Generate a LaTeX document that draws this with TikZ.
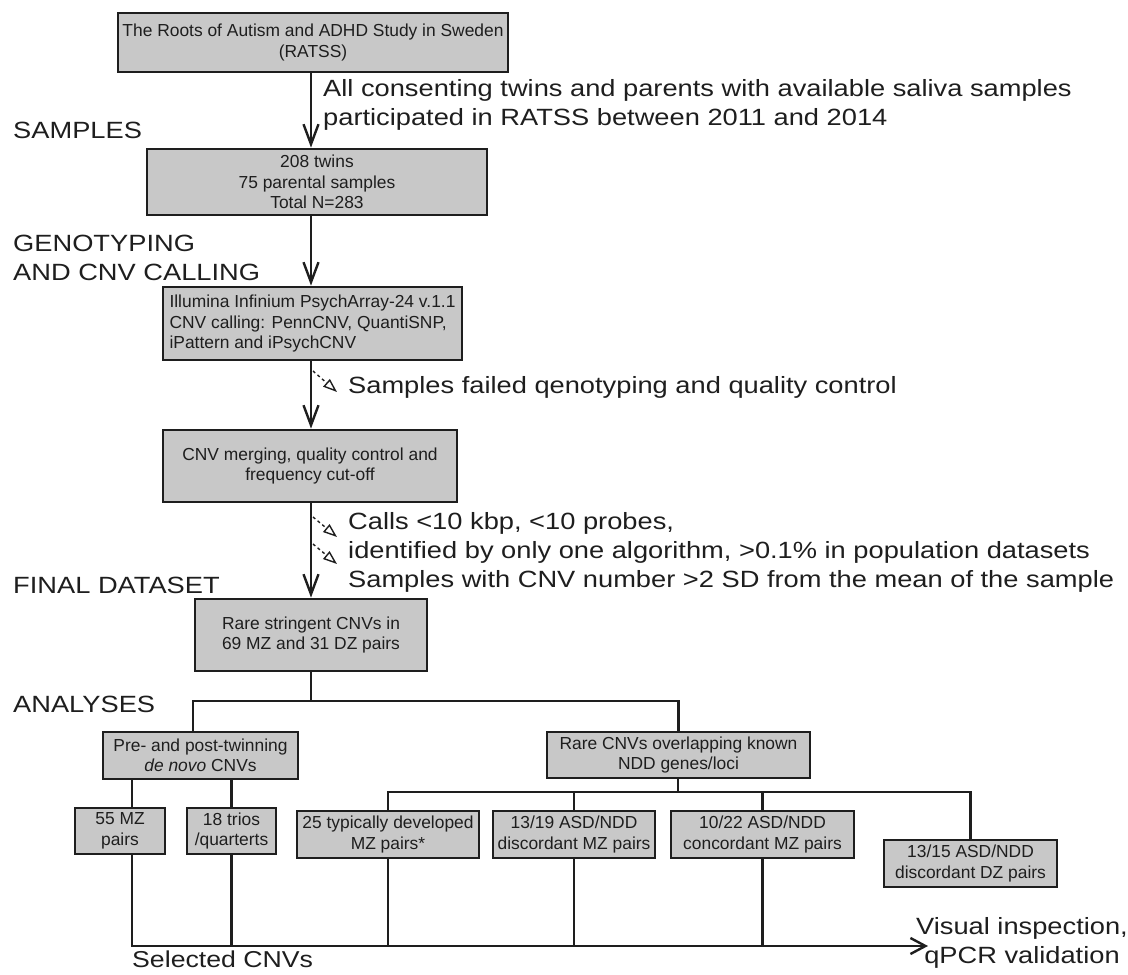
\documentclass[tikz,border=0pt]{standalone}
\usepackage{fontspec}
\setmainfont{Liberation Sans}
\newfontfamily\widefont{Liberation Sans}[FakeStretch=1.16]
\usetikzlibrary{arrows.meta}
\definecolor{boxgray}{RGB}{200,200,200}
\definecolor{ink}{RGB}{30,30,30}

\begin{document}
\begin{tikzpicture}
[
    x=1pt, y=-1pt,
    box/.style={draw=ink, fill=boxgray, line width=2.8pt, inner sep=0pt, align=center, text=ink, font=\fontsize{17.4pt}{20.5pt}\selectfont},
    lbl/.style={anchor=west, inner sep=0pt, align=left, text=ink, font=\widefont\fontsize{23.5pt}{29pt}\selectfont},
    flow/.style={draw=ink, line width=2.4pt, -{Straight Barb[length=20pt,width=15pt]}},
    link/.style={draw=ink, line width=2.4pt},
    drop/.style={draw=ink, line width=1.4pt, dashed, -{Triangle[open,length=14pt,width=10pt]}},
]
\useasboundingbox (0,0) rectangle (1128,975);

\coordinate (spine) at (311,0);
\coordinate (b1l) at (193,701);
\coordinate (b2) at (678,792);
\coordinate (d55) at (132,0);
\coordinate (sel) at (132,946);
\coordinate (vis) at (928,946);

\node[box, minimum width=390pt, minimum height=59pt] (ratss) at (313,42.5)
    {The Roots of Autism and ADHD Study in Sweden\\(RATSS)};
\node[box, minimum width=340pt, minimum height=66pt] (samp) at (317,182)
    {208 twins\\75 parental samples\\Total N=283};
\node[box, minimum width=299pt, minimum height=73pt, align=left] (geno) at (312.5,323.5)
    {Illumina Infinium PsychArray-24 v.1.1\\CNV calling: PennCNV, QuantiSNP,\\iPattern and iPsychCNV};
\node[box, minimum width=294pt, minimum height=72pt] (merge) at (310,466)
    {CNV merging, quality control and\\frequency cut-off};
\node[box, minimum width=232pt, minimum height=72pt] (final) at (311,635)
    {Rare stringent CNVs in\\69 MZ and 31 DZ pairs};
\node[box, minimum width=195pt, minimum height=47pt] (prepost) at (200.5,755.5)
    {Pre- and post-twinning\\\textit{de novo} CNVs};
\node[box, minimum width=263pt, minimum height=46pt] (rarenn) at (678.5,755)
    {Rare CNVs overlapping known\\NDD genes/loci};
\node[box, minimum width=90pt, minimum height=46pt] (mz55) at (120,831)
    {55 MZ\\pairs};
\node[box, minimum width=89pt, minimum height=46pt] (trios) at (231.5,831)
    {18 trios\\/quarterts};
\node[box, minimum width=182pt, minimum height=47pt] (typ) at (388,834.5)
    {25 typically developed\\MZ pairs*};
\node[box, minimum width=162pt, minimum height=47pt] (dismz) at (574,834.5)
    {13/19 ASD/NDD\\discordant MZ pairs};
\node[box, minimum width=183pt, minimum height=47pt] (conmz) at (762.5,834.5)
    {10/22 ASD/NDD\\concordant MZ pairs};
\node[box, minimum width=173pt, minimum height=47pt] (disdz) at (970.5,863.5)
    {13/15 ASD/NDD\\discordant DZ pairs};

\node[lbl] (samples) at (13,130) {SAMPLES};
\node[lbl] (genotyping) at (13,258) {GENOTYPING\\AND CNV CALLING};
\node[lbl] (finalds) at (13,585) {FINAL DATASET};
\node[lbl] (analyses) at (13,704) {ANALYSES};
\node[lbl] (consent) at (323,105)
    {All consenting twins and parents with available saliva samples\\participated in RATSS between 2011 and 2014};
\node[lbl] (failed) at (348,387) {Samples failed qenotyping and quality control};
\node[lbl] (filters) at (348,552)
    {Calls <10 kbp, <10 probes,\\identified by only one algorithm, >0.1\% in population datasets\\Samples with CNV number >2 SD from the mean of the sample};
\node[lbl, font=\widefont\fontsize{23pt}{27pt}\selectfont] (selected) at (132,959) {Selected CNVs};
\node[lbl, anchor=center, align=center] (visual) at (1022,943) {Visual inspection,\\qPCR validation};

\coordinate (q1a) at (313,371);
\coordinate (q1b) at (337,392);
\coordinate (q2a) at (313,517);
\coordinate (q2b) at (337,537);
\coordinate (q3a) at (313,544);
\coordinate (q3b) at (337,564);

\draw[flow] (ratss.south -| spine) -- (samp.north -| spine);
\draw[flow] (samp.south -| spine) -- (geno.north -| spine);
\draw[flow] (geno.south -| spine) -- (merge.north -| spine);
\draw[flow] (merge.south -| spine) -- (final.north -| spine);
\draw[drop] (q1a) -- (q1b);
\draw[drop] (q2a) -- (q2b);
\draw[drop] (q3a) -- (q3b);

\draw[link] (final.south -| spine) -- (spine |- b1l);
\draw[link] (prepost.north -| b1l) |- (rarenn.north |- b1l) -- (rarenn.north);
\draw[link] (prepost.south -| d55) -- (mz55.north -| d55);
\draw[link] (prepost.south -| trios) -- (trios.north);
\draw[link] (rarenn.south -| b2) -- (b2);
\draw[link] (typ.north) |- (disdz.north |- b2) -- (disdz.north);
\draw[link] (dismz.north) -- (dismz.north |- b2);
\draw[link] (conmz.north) -- (conmz.north |- b2);

\draw[link, -{Straight Barb[length=15pt,width=16pt]}] (mz55.south -| sel) |- (vis);
\draw[link] (trios.south) -- (trios.south |- sel);
\draw[link] (typ.south) -- (typ.south |- sel);
\draw[link] (dismz.south) -- (dismz.south |- sel);
\draw[link] (conmz.south) -- (conmz.south |- sel);
\end{tikzpicture}
\end{document}
